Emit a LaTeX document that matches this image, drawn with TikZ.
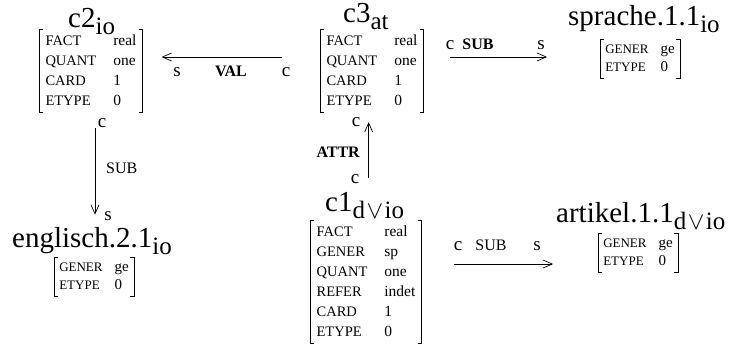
\documentclass[tikz,border=0pt]{standalone}
\usepackage{fontspec}
\setmainfont{Liberation Serif}
\usetikzlibrary{arrows.meta}

% attribute names in small capitals (big and small feature matrices)
\newcommand\attr[1]{{\fontsize{14.5}{14.5}\selectfont #1}}
\newcommand\sattr[1]{{\fontsize{13}{13}\selectfont #1}}
% node name with its sort as a subscript
\newcommand\ttl[2]{{\fontsize{29}{29}\selectfont #1}\raisebox{-7pt}{\fontsize{25}{25}\selectfont #2}}
\newcommand\dorio{d\hspace{1.5pt}$\vee$\hspace{1.5pt}io}
% square brackets round a feature matrix
\newcommand\brackets[1]{%
  \draw[bracket] ([xshift=4pt]#1.north west) -- (#1.north west) -- (#1.south west) -- ([xshift=4pt]#1.south west);
  \draw[bracket] ([xshift=-4pt]#1.north east) -- (#1.north east) -- (#1.south east) -- ([xshift=-4pt]#1.south east);}

\tikzset{
  title/.style={inner sep=0pt, anchor=base west},
  bigmat/.style={inner xsep=6pt, inner ysep=1pt, font=\fontsize{15.5}{20}\selectfont},
  smallmat/.style={inner xsep=5pt, inner ysep=1pt, font=\fontsize{15}{18}\selectfont},
  bracket/.style={line width=0.7pt},
  lbl/.style={inner sep=0pt, anchor=base, font=\fontsize{19}{19}\selectfont},
  relb/.style={inner sep=0pt, anchor=base, font=\fontsize{16}{16}\selectfont\bfseries},
  rel/.style={inner sep=0pt, anchor=base, font=\fontsize{16}{16}\selectfont},
  arr/.style={line width=0.7pt, -{Straight Barb[length=9pt,width=8pt]}},
}

\begin{document}
\begin{tikzpicture}[x=1pt,y=-1pt]
\useasboundingbox (0,0) rectangle (734,343);

% c2
\node[title] (t2) at (68,27) {\ttl{c2}{io}};
\node[bigmat] (m2) at (91,71) {\begin{tabular}{@{}l@{\hspace{17pt}}l@{}}
  \attr{FACT} & real\\ \attr{QUANT} & one\\ \attr{CARD} & 1\\ \attr{ETYPE} & 0\end{tabular}};
\brackets{m2}

% c3
\node[title] (t3) at (343,22) {\ttl{c3}{at}};
\node[bigmat] (m3) at (372,71) {\begin{tabular}{@{}l@{\hspace{17pt}}l@{}}
  \attr{FACT} & real\\ \attr{QUANT} & one\\ \attr{CARD} & 1\\ \attr{ETYPE} & 0\end{tabular}};
\brackets{m3}

% sprache.1.1
\node[title] (tsp) at (568,25) {\ttl{sprache.1.1}{io}};
\node[smallmat] (msp) at (640,59) {\begin{tabular}{@{}l@{\hspace{12pt}}l@{}}
  \sattr{GENER} & ge\\ \sattr{ETYPE} & 0\end{tabular}};
\brackets{msp}

% englisch.2.1
\node[title] (ten) at (12,247) {\ttl{englisch.2.1}{io}};
\node[smallmat] (men) at (94,277) {\begin{tabular}{@{}l@{\hspace{12pt}}l@{}}
  \sattr{GENER} & ge\\ \sattr{ETYPE} & 0\end{tabular}};
\brackets{men}

% c1
\node[title] (t1) at (325,211) {\ttl{c1}{\dorio}};
\node[bigmat] (m1) at (366,282) {\begin{tabular}{@{}l@{\hspace{17pt}}l@{}}
  \attr{FACT} & real\\ \attr{GENER} & sp\\ \attr{QUANT} & one\\ \attr{REFER} & indet\\
  \attr{CARD} & 1\\ \attr{ETYPE} & 0\end{tabular}};
\brackets{m1}

% artikel.1.1
\node[title] (tar) at (556,222) {\ttl{artikel.1.1}{\dorio}};
\node[smallmat] (mar) at (638,253) {\begin{tabular}{@{}l@{\hspace{12pt}}l@{}}
  \sattr{GENER} & ge\\ \sattr{ETYPE} & 0\end{tabular}};
\brackets{mar}

% VAL: c3 -> c2
\draw[arr, shorten <=38pt, shorten >=19pt] ([yshift=14pt]m3.west) -- ([yshift=14pt]m2.east);
\node[lbl] (vs) at (177,76) {s};
\node[relb] (vr) at (231,76) {VAL};
\node[lbl] (vc) at (286,76) {c};

% SUB: c3 -> sprache.1.1
\draw[arr, shorten <=26pt, shorten >=21pt] ([yshift=14pt]m3.east) -- ([yshift=14pt]m3.east -| tsp.west);
\node[lbl] (sc) at (450,49) {c};
\node[relb] (sr) at (478,49) {SUB};
\node[lbl] (ss) at (541,49) {s};

% SUB: c2 -> englisch.2.1
\draw[arr, shorten <=16pt, shorten >=12pt] ([xshift=4pt]m2.south) -- ([xshift=4pt]m2.south |- ten.north);
\node[lbl] (ec) at (102,127) {c};
\node[rel, anchor=base west] (er) at (106,173) {SUB};
\node[lbl] (es) at (108,220) {s};

% ATTR: c1 -> c3
\draw[arr, shorten <=14pt, shorten >=10pt] ([xshift=4pt]t1.north) -- ([xshift=4pt]t1.north |- m3.south);
\node[lbl] (ac) at (356,126) {c};
\node[relb, anchor=base east] (ar) at (360,157) {ATTR};
\node[lbl] (ac2) at (355,183) {c};

% SUB: c1 -> artikel.1.1
\draw[arr, shorten <=32pt, shorten >=3pt] ([yshift=18pt]m1.east) -- ([yshift=18pt]m1.east -| tar.west);
\node[lbl] (rc) at (458,250) {c};
\node[rel] (rr) at (491,250) {SUB};
\node[lbl] (rs) at (537,250) {s};
\end{tikzpicture}
\end{document}
